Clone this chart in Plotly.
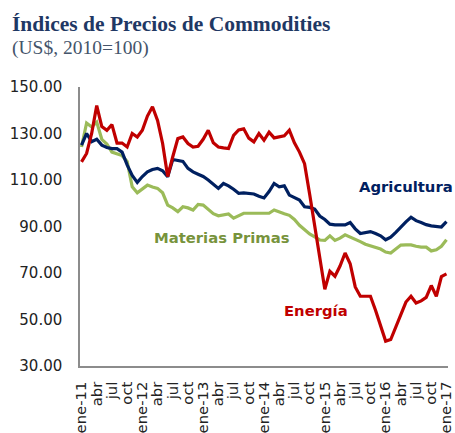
import plotly.graph_objects as go

meses = ["ene", "feb", "mar", "abr", "may", "jun", "jul", "ago", "sep", "oct", "nov", "dic"]
fechas = [f"{meses[i % 12]}-{11 + i // 12}" for i in range(73)]
tick_fechas = [fechas[i] for i in range(0, 73, 3)]
tick_labels = [(f if f.startswith("ene") else f.split("-")[0]) for f in tick_fechas]

energia = [117.8, 121.4, 130, 142, 133, 131.4, 133.8, 125.9, 125.9, 124.2, 130, 128.5,
           131.4, 137.5, 141.5, 135.6, 125.7, 111.5, 120, 127.8, 128.5, 125.7, 124.2, 124.5,
           127.5, 131.4, 126, 124.2, 123.8, 123.5, 129.2, 131.5, 132, 128, 126.4, 130,
           127.1, 130.6, 128.1, 128.5, 129, 131.4, 126, 122, 117, 104, 90, 75,
           63, 70.7, 68.6, 73, 78.6, 74, 64, 60, 60, 60, 54, 47,
           40.7, 41.4, 47, 52, 57.5, 60, 57.1, 58, 59.5, 64.6, 60, 68.5,
           69.6]

agricultura = [125, 130, 126.5, 127.5, 125, 124, 123.5, 123.5, 122, 116.5, 112, 109,
               111.5, 113.5, 114.5, 115, 114, 111.4, 118.8, 118.5, 118, 115, 113.5, 112.5,
               111.5, 110, 108, 106.4, 108.5, 107.5, 106, 104.3, 104.5, 104.3, 104, 103,
               102.3, 105, 108.5, 107.1, 107.5, 103.5, 102.5, 101.4, 98.5, 98.2, 97.5, 94.5,
               93, 91, 90.7, 90.7, 90.7, 91.7, 89, 87, 87.5, 87.8, 87, 86,
               84.3, 85.4, 87.5, 90, 92, 94, 92.5, 91.7, 90.8, 90.3, 90, 89.8,
               92.1]

materias = [124.2, 134.5, 132.8, 134.9, 127.5, 125.5, 122, 121.3, 120.5, 118, 107.1, 104.5,
            106, 107.8, 107, 106.4, 104.5, 99.2, 98, 96.4, 98.5, 98, 97.1, 99.5,
            99.2, 97.5, 95.5, 94.6, 95, 95.4, 93.6, 94.5, 95.7, 95.7, 95.7, 95.7,
            95.7, 95.7, 97.1, 96.2, 95.5, 94.8, 93, 90.5, 88.5, 86.8, 85.5, 84.2,
            84, 86, 84, 85, 86.4, 85.5, 84.6, 83.5, 82.4, 81.7, 81, 80.3,
            79, 78.6, 80.3, 82, 82.1, 82.1, 81.5, 81.1, 81.1, 79.5, 80, 81.5,
            84.3]

series = [
    ("Materias Primas", materias, "#9BBB59", "#77933C", 27.65, 85.1),
    ("Agricultura", agricultura, "#002060", "#002060", 64.0, 107.0),
    ("Energía", energia, "#C00000", "#C00000", 46.25, 53.8),
]

fig = go.Figure()
for name, vals, col, tcol, lx, ly in series:
    fig.add_trace(go.Scatter(x=fechas, y=vals, mode="lines", name=name,
                             line=dict(color=col, width=3.2), showlegend=False))
    fig.add_annotation(x=lx, y=ly, xref="x", yref="y", text=f"<b>{name}</b>",
                       showarrow=False, font=dict(family="DejaVu Sans", size=14.8, color=tcol))

fig.add_annotation(xref="paper", yref="paper", x=-0.19, y=1.227, xanchor="left", yanchor="middle",
                   text="<b>Índices de Precios de Commodities</b>", showarrow=False,
                   font=dict(family="Liberation Serif", size=21.5, color="#1F3864"))
fig.add_annotation(xref="paper", yref="paper", x=-0.19, y=1.138, xanchor="left", yanchor="middle",
                   text="(US$, 2010=100)", showarrow=False,
                   font=dict(family="Liberation Serif", size=19.5, color="#44546A"))

fig.update_layout(
    width=455, height=433,
    margin=dict(l=80, r=7, t=86.5, b=67, autoexpand=False),
    plot_bgcolor="white", paper_bgcolor="white",
    xaxis=dict(type="category", range=[-0.3, 72.3], tickmode="array",
               tickvals=tick_fechas, ticktext=tick_labels, tickangle=-90,
               showgrid=False, zeroline=False, showline=True, linecolor="#8C8C8C",
               linewidth=1.5, ticks="", ticklabelstandoff=8, automargin=False,
               tickfont=dict(family="DejaVu Sans", size=14.8, color="#222222")),
    yaxis=dict(range=[30, 150], tickvals=[30, 50, 70, 90, 110, 130, 150], tickformat=".2f",
               showgrid=False, zeroline=False, showline=True, linecolor="#8C8C8C",
               linewidth=1.5, ticks="", ticklabelstandoff=13, automargin=False,
               tickfont=dict(family="DejaVu Sans", size=15, color="#222222")),
)

fig.write_html("out.html", config={"displayModeBar": False},
               post_script="document.body.style.margin='0';")
